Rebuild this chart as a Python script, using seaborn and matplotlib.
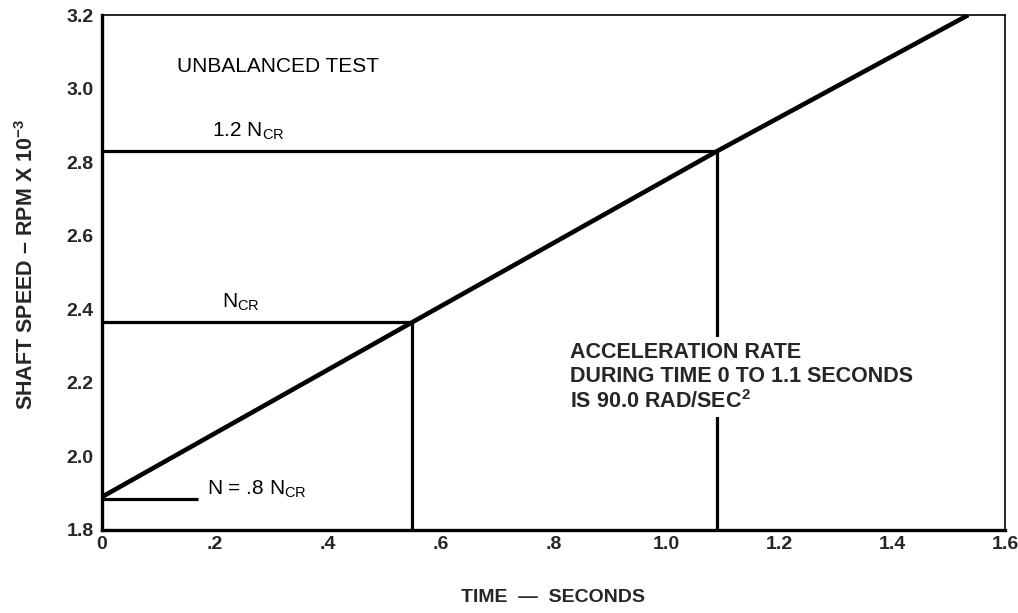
import matplotlib
matplotlib.use("Agg")
import matplotlib.pyplot as plt
import pandas as pd
import seaborn as sns

# ---- data ----
time_s = [0.0, 0.55, 1.09, 1.535]
speed_krpm = [1.89, 2.365, 2.83, 3.2]

ref_levels = [1.885, 2.365, 2.83]      # .8 Ncr, Ncr, 1.2 Ncr
ref_ends = [0.17, 0.55, 1.09]          # time where each reference meets the ramp

x_major = [0.0, 0.2, 0.4, 0.6, 0.8, 1.0, 1.2, 1.4, 1.6]
x_labels = ["0", ".2", ".4", ".6", ".8", "1.0", "1.2", "1.4", "1.6"]
x_minor = [0.1, 0.3, 0.5, 0.7, 0.9, 1.1, 1.3, 1.5]
y_major = [1.8, 2.0, 2.2, 2.4, 2.6, 2.8, 3.0, 3.2]
y_labels = ["1.8", "2.0", "2.2", "2.4", "2.6", "2.8", "3.0", "3.2"]
y_minor = [1.9, 2.1, 2.3, 2.5, 2.7, 2.9, 3.1]

df = pd.DataFrame({"time": time_s, "speed": speed_krpm})

sns.set_style("white")
plt.rcParams["font.family"] = ["Liberation Sans", "DejaVu Sans"]
plt.rcParams["mathtext.fontset"] = "custom"
plt.rcParams["mathtext.rm"] = "Liberation Sans"
plt.rcParams["mathtext.it"] = "Liberation Sans"
plt.rcParams["mathtext.bf"] = "Liberation Sans:bold"
plt.rcParams["mathtext.default"] = "regular"

fig = plt.figure(figsize=(10.18, 6.13), dpi=100)
ax = fig.add_axes([0.1002, 0.1354, 0.8870, 0.8401])

sns.lineplot(data=df, x="time", y="speed", color="black", lw=3.3, ax=ax,
             solid_capstyle="butt", zorder=3)
ax.hlines(ref_levels, 0, ref_ends, color="black", lw=2.3, zorder=3)
ax.vlines(ref_ends[1:], 1.8, ref_levels[1:], color="black", lw=2.3, zorder=2)

ax.set_xlim(0, 1.6)
ax.set_ylim(1.8, 3.2)

ax.set_xticks(x_major)
ax.set_xticklabels(x_labels)
ax.set_xticks(x_minor, minor=True)
ax.set_yticks(y_major)
ax.set_yticklabels(y_labels)
ax.set_yticks(y_minor, minor=True)

ax.tick_params(axis="x", which="both", direction="in", length=14, width=2.2,
               pad=4, labelsize=14, color="black")
ax.tick_params(axis="y", which="both", direction="in", length=16, width=2.2,
               pad=6, labelsize=14, color="black")
for lab in ax.get_xticklabels() + ax.get_yticklabels():
    lab.set_fontweight("bold")

for side in ["left", "bottom"]:
    ax.spines[side].set_linewidth(2.4)
for side in ["top", "right"]:
    ax.spines[side].set_linewidth(1.2)
for s in ax.spines.values():
    s.set_color("black")
    s.set_visible(True)

ax.set_xlabel("TIME  \u2014  SECONDS", fontsize=14, fontweight="bold")
ax.set_ylabel("SHAFT SPEED \u2013 RPM X 10$^{\\mathbf{-3}}$", fontsize=15.5,
              fontweight="bold")
ax.xaxis.set_label_coords(0.50, -0.115)
ax.yaxis.set_label_coords(-0.071, 0.515)

txt = dict(fontsize=15, color="black", zorder=5)
ax.text(0.133, 3.06, "UNBALANCED TEST", va="center", ha="left", **txt)
ax.text(0.195, 2.885, "1.2 N$_{CR}$", va="center", ha="left", **txt)
ax.text(0.213, 2.42, "N$_{CR}$", va="center", ha="left", **txt)
ax.text(0.186, 1.91, "N = .8 N$_{CR}$", va="center", ha="left", **txt)
ax.text(0.83, 2.215,
        "ACCELERATION RATE\nDURING TIME 0 TO 1.1 SECONDS\nIS 90.0 RAD/SEC$^{2}$",
        va="center", ha="left", linespacing=1.2, fontsize=15.5,
        fontweight="bold", zorder=5,
        bbox=dict(facecolor="white", edgecolor="none", pad=3))

fig.savefig("out.png", dpi=100)
